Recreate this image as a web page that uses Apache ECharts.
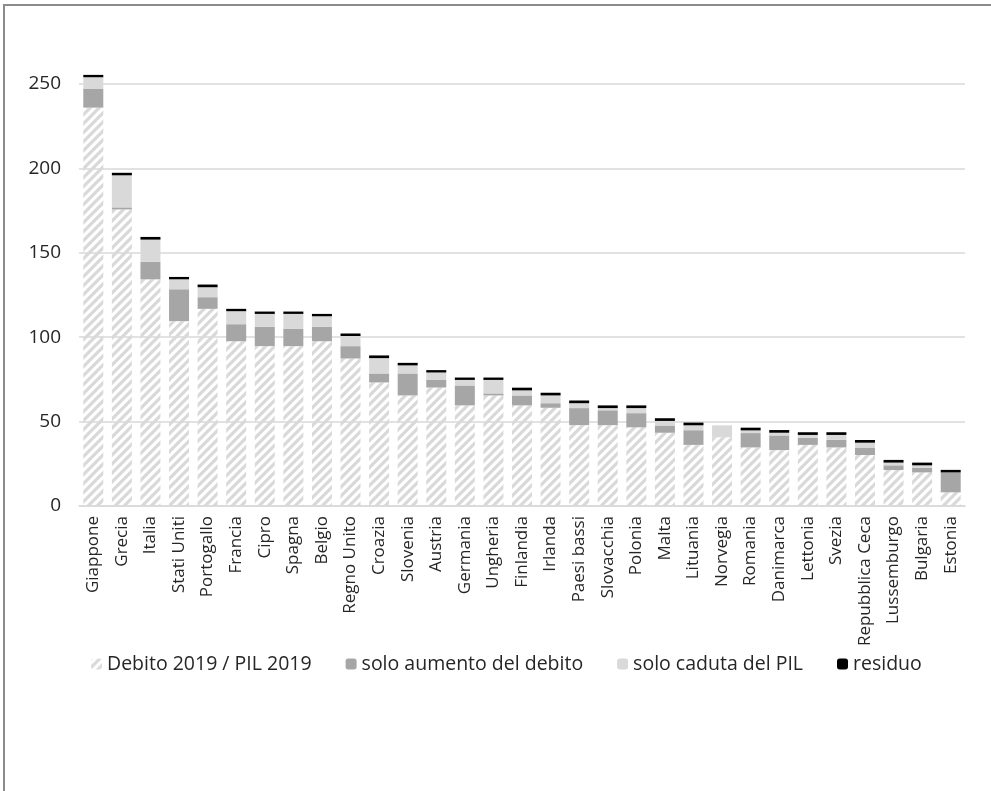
<!DOCTYPE html>
<html>
<head>
<meta charset="UTF-8">
<title>Debito / PIL</title>
<script src="https://cdn.jsdelivr.net/npm/echarts@6/dist/echarts.min.js"></script>
<style>
  body { margin: 0; background: #fff; }
  #frame { position: absolute; left: 3px; top: 4px; width: 1200px; height: 1200px;
           border-top: 2px solid #8c8c8c; border-left: 2px solid #8c8c8c; }
  #main { position: absolute; left: 0; top: 0; width: 991px; height: 791px; }
</style>
</head>
<body>
<div id="frame"></div>
<div id="main"></div>
<script type="text/javascript">
// dati
var categorie = ['Giappone','Grecia','Italia','Stati Uniti','Portogallo','Francia','Cipro','Spagna','Belgio','Regno Unito',
  'Croazia','Slovenia','Austria','Germania','Ungheria','Finlandia','Irlanda','Paesi bassi','Slovacchia','Polonia',
  'Malta','Lituania','Norvegia','Romania','Danimarca','Lettonia','Svezia','Repubblica Ceca','Lussemburgo','Bulgaria','Estonia'];
var debito2019 = [236, 175.7, 134.3, 109.5, 116.8, 97.6, 94.7, 94.7, 97.6, 87.4,
  73.2, 65.5, 70.2, 59.6, 65.5, 59.6, 58.2, 47.9, 47.9, 46.6,
  43.4, 36.2, 40.7, 34.7, 33.1, 36.2, 34.7, 30.2, 21.3, 19.9, 8.1];
var aumentoDebito = [11.3, 1.2, 10.3, 18.9, 6.9, 10.1, 11.4, 10.2, 8.5, 7.3,
  5.3, 13.0, 4.5, 11.8, 1.2, 5.9, 2.7, 10.1, 8.8, 8.4,
  4.3, 8.7, 0, 8.5, 8.7, 4.3, 4.5, 4.4, 2.8, 2.8, 11.8];
var cadutaPil = [6.7, 19.0, 13.2, 5.9, 5.9, 7.7, 7.7, 8.9, 6.3, 6.0,
  9.1, 4.8, 4.4, 3.3, 8.0, 3.0, 4.6, 2.9, 1.3, 3.0,
  2.7, 2.9, 7.1, 1.6, 1.6, 1.6, 2.9, 2.9, 1.6, 1.4, 0];
var residuo = [1.4, 1.5, 1.6, 1.4, 1.6, 1.4, 1.4, 1.4, 1.4, 1.5,
  1.6, 1.5, 1.4, 1.4, 1.4, 1.6, 1.6, 1.6, 1.6, 1.6,
  1.6, 1.6, 0, 1.6, 1.6, 1.6, 1.6, 1.6, 1.6, 1.6, 1.5];
var yMax = 250, yStep = 50;

// tratteggio diagonale per la serie base
var tile = document.createElement('canvas');
tile.width = 9; tile.height = 9;
var ctx = tile.getContext('2d');
ctx.strokeStyle = '#d9d9d9';
ctx.lineWidth = 3.2;
ctx.beginPath();
ctx.moveTo(-4.5, 4.5); ctx.lineTo(4.5, -4.5);
ctx.moveTo(0, 9); ctx.lineTo(9, 0);
ctx.moveTo(4.5, 13.5); ctx.lineTo(13.5, 4.5);
ctx.stroke();
var tratteggio = { image: tile, repeat: 'repeat' };

var font = 'Open Sans';
var testo = '#262626';
var myChart = echarts.init(document.getElementById('main'));

function serie(nome, dati, colore) {
    return {
        name: nome,
        type: 'bar',
        stack: 'tot',
        barWidth: 20,
        clip: false,
        data: dati,
        itemStyle: { color: colore },
        emphasis: { disabled: true }
    };
}

var option = {
    animation: false,
    backgroundColor: 'transparent',
    textStyle: { fontFamily: font },
    grid: { left: 79, right: 26, top: 84, bottom: 285 },
    legend: {
        left: 86,
        top: 649,
        itemWidth: 11,
        itemHeight: 11,
        itemGap: 34,
        textStyle: { fontSize: 19.5, color: testo, fontFamily: font },
        data: ['Debito 2019 / PIL 2019', 'solo aumento del debito', 'solo caduta del PIL', 'residuo']
    },
    xAxis: {
        type: 'category',
        data: categorie,
        axisLine: { lineStyle: { color: '#d9d9d9', width: 1.5 } },
        axisTick: { show: false },
        axisLabel: { rotate: 90, interval: 0, margin: 10, fontSize: 17, color: testo, fontFamily: font }
    },
    yAxis: {
        type: 'value',
        min: 0,
        max: yMax,
        interval: yStep,
        axisLine: { show: false },
        axisTick: { show: false },
        splitLine: { lineStyle: { color: '#d9d9d9', width: 1.5 } },
        axisLabel: { margin: 18, fontSize: 19, color: testo, fontFamily: font }
    },
    series: [
        serie('Debito 2019 / PIL 2019', debito2019, tratteggio),
        serie('solo aumento del debito', aumentoDebito, '#a6a6a6'),
        serie('solo caduta del PIL', cadutaPil, '#d9d9d9'),
        serie('residuo', residuo, '#000000')
    ]
};
myChart.setOption(option);
</script>
</body>
</html>
